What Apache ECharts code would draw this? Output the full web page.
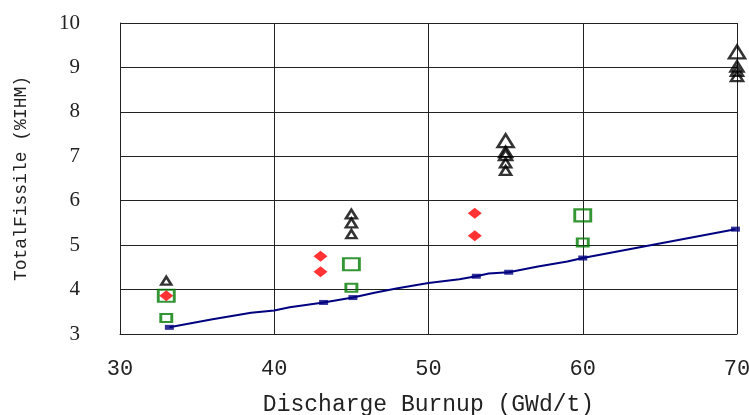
<!DOCTYPE html>
<html>
<head>
<meta charset="utf-8">
<script src="https://cdn.jsdelivr.net/npm/echarts@6/dist/echarts.min.js"></script>
<style>
  html, body { margin: 0; padding: 0; background: #fff; }
  #chart { width: 749px; height: 415px; }
</style>
</head>
<body>
<div id="chart"></div>
<script>
// 曲线（计算值）
const curveX = [33.2, 36, 38.5, 40, 41, 43.2, 45.1, 46.5, 48, 50, 52, 53.1, 53.9, 55.2, 57.1, 59, 60.0, 69.9]
const curveY = [3.15, 3.33, 3.48, 3.53, 3.6, 3.71, 3.82, 3.93, 4.03, 4.15, 4.23, 4.3, 4.36, 4.39, 4.52, 4.63, 4.71, 5.36]
// 曲线上的方块标记
const markX = [33.2, 43.2, 45.1, 53.1, 55.2, 60.0, 69.9]
const markY = [3.15, 3.71, 3.82, 4.3, 4.39, 4.71, 5.36]
// 红色菱形
const diamondX = [33, 43, 43, 53, 53]
const diamondY = [3.86, 4.75, 4.4, 5.72, 5.21]
// 绿色方框（大/小）
const squareX = [33, 33, 45, 45, 60, 60]
const squareY = [3.86, 3.36, 4.57, 4.04, 5.67, 5.06]
const squareBig = [true, false, true, false, true, false]
// 黑色三角
const triX = [33, 45, 45, 45, 55, 55, 55, 55, 55, 70, 70, 70, 70]
const triY = [4.2, 5.7, 5.5, 5.25, 7.35, 7.1, 7.03, 6.85, 6.68, 9.35, 9.02, 8.92, 8.8]
const triSize = [10, 11, 11, 10, 16, 13, 13, 11, 11, 16, 13, 12, 12]
// 刻度
const xTicks = [30, 40, 50, 60, 70]
const yTicks = [3, 4, 5, 6, 7, 8, 9, 10]

const myChart = echarts.init(document.getElementById('chart'))

const options = {
  animation: false,
  grid: { left: 120, right: 12, top: 23, bottom: 81, containLabel: false, outerBoundsMode: 'none' },
  xAxis: {
    type: 'value',
    min: xTicks[0],
    max: xTicks[xTicks.length - 1],
    interval: 10,
    name: 'Discharge Burnup (GWd/t)',
    nameLocation: 'middle',
    nameGap: 59,
    nameTextStyle: { fontFamily: 'Liberation Mono', fontSize: 23, color: '#222' },
    axisLine: { show: true, lineStyle: { color: '#222', width: 1 } },
    axisTick: { show: false },
    axisLabel: { fontFamily: 'Liberation Mono', fontSize: 22, color: '#222', margin: 24 },
    splitLine: { show: true, lineStyle: { color: '#222', width: 1 } }
  },
  yAxis: {
    type: 'value',
    min: yTicks[0],
    max: yTicks[yTicks.length - 1],
    interval: 1,
    name: 'TotalFissile (%IHM)',
    nameLocation: 'middle',
    nameRotate: 90,
    nameGap: 90,
    nameTextStyle: { fontFamily: 'Liberation Mono', fontSize: 18, color: '#222' },
    axisLine: { show: true, lineStyle: { color: '#222', width: 1 } },
    axisTick: { show: false },
    axisLabel: { fontFamily: 'Liberation Serif', fontSize: 21, color: '#222', margin: 40 },
    splitLine: { show: true, lineStyle: { color: '#222', width: 1 } }
  },
  series: [
    {
      type: 'line',
      data: curveX.map((x, i) => [x, curveY[i]]),
      showSymbol: false,
      lineStyle: { color: '#000080', width: 2 },
      z: 2
    },
    {
      type: 'scatter',
      data: markX.map((x, i) => [x, markY[i]]),
      symbol: 'rect',
      symbolSize: [9, 5],
      itemStyle: { color: '#000080' },
      z: 3
    },
    {
      type: 'scatter',
      data: squareX.map((x, i) => ({
        value: [x, squareY[i]],
        symbolSize: squareBig[i] ? [16, 12] : [11, 8]
      })),
      symbol: 'rect',
      itemStyle: { color: 'rgba(0,0,0,0)', borderColor: '#007a00', borderWidth: 2.5 },
      z: 4
    },
    {
      type: 'scatter',
      data: diamondX.map((x, i) => [x, diamondY[i]]),
      symbol: 'diamond',
      symbolSize: [14, 11],
      itemStyle: { color: '#ff0000' },
      z: 5
    },
    {
      type: 'scatter',
      data: triX.map((x, i) => ({ value: [x, triY[i]], symbolSize: [triSize[i], triSize[i] * 0.8] })),
      symbol: 'triangle',
      itemStyle: { color: 'rgba(0,0,0,0)', borderColor: '#000', borderWidth: 2.5 },
      z: 6
    }
  ]
}

myChart.setOption(options)
</script>
</body>
</html>
